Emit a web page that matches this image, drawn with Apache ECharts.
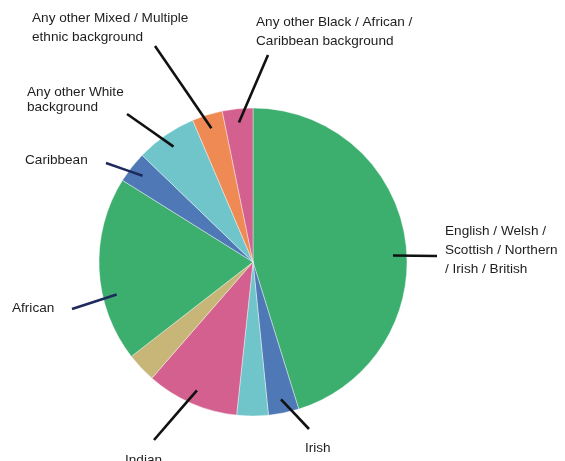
<!DOCTYPE html>
<html>
<head>
<meta charset="utf-8">
<script src="https://cdn.jsdelivr.net/npm/echarts@6/dist/echarts.min.js"></script>
<style>
  html, body { margin: 0; padding: 0; background: #fff; }
  #chart { width: 565px; height: 461px; }
</style>
</head>
<body>
<div id="chart"></div>
<script>
// Ethnic group shares (%), clockwise from 12 o'clock
const categories = [
  'English / Welsh / Scottish / Northern / Irish / British',
  'Irish',
  'Other (i)',
  'Indian',
  'Other (ii)',
  'African',
  'Caribbean',
  'Any other White background',
  'Any other Mixed / Multiple ethnic background',
  'Any other Black / African / Caribbean background'
];
const values = [45.2, 3.2, 3.3, 9.7, 3.1, 19.4, 3.3, 6.4, 3.2, 3.2];

// Text shown beside each slice ('' = no label)
const labelTexts = [
  'English / Welsh /\nScottish / Northern\n/ Irish / British',
  'Irish',
  '',
  'Indian',
  '',
  'African',
  'Caribbean',
  'Any other White\nbackground',
  'Any other Mixed / Multiple\nethnic background',
  'Any other Black / African /\nCaribbean background'
];

const sliceColors = ['#3cae6e', '#4f79b6', '#6fc5c9', '#d3608f', '#c7b678',
                     '#3cae6e', '#4f79b6', '#6fc5c9', '#ef8a55', '#d3608f'];

// Pie geometry
const CENTER = [253, 262];
const RADIUS = 154;

// Annotation layout: label anchor, leader end point, leader angle tweak (deg),
// leader colour and label line height
const annotations = {
  0: { label: [445, 250], end: [437, 256], dAng: 6, color: '#111', lh: 19 },
  1: { label: [305, 448], end: [309, 429], dAng: 0, color: '#111', lh: 19 },
  3: { label: [125, 460], end: [154, 440], dAng: 0, color: '#111', lh: 19 },
  5: { label: [12, 308], end: [72, 309], dAng: -10.5, color: '#1f2a5c', lh: 19 },
  6: { label: [25, 160], end: [106, 163], dAng: 0, color: '#1f2a5c', lh: 19 },
  7: { label: [27, 100], end: [127, 114], dAng: 0, color: '#111', lh: 15 },
  8: { label: [32, 28], end: [155, 46], dAng: 0, color: '#111', lh: 19 },
  9: { label: [256, 32], end: [268, 55], dAng: 0, color: '#111', lh: 19 }
};

// Mid-angle of each slice, degrees clockwise from 12 o'clock
const total = values.reduce((s, v) => s + v, 0);
const midAngles = [];
let acc = 0;
values.forEach(v => {
  midAngles.push((acc + v / 2) / total * 360);
  acc += v;
});

function leaderStart(i) {
  const a = (midAngles[i] + annotations[i].dAng) * Math.PI / 180;
  const r = RADIUS * 0.91;
  return [CENTER[0] + r * Math.sin(a), CENTER[1] - r * Math.cos(a)];
}

// Coloured slices
const sliceData = categories.map((name, i) => ({
  name: name,
  value: values[i],
  itemStyle: { color: sliceColors[i] }
}));

// Same slices, invisible, carrying labels and leaders drawn above the pie
const labelData = categories.map((name, i) => {
  const ann = annotations[i];
  const item = { name: name, value: values[i] };
  if (ann) {
    item.label = { show: true, lineHeight: ann.lh };
    item.labelLine = { show: true, lineStyle: { color: ann.color } };
  } else {
    item.label = { show: false };
    item.labelLine = { show: false };
  }
  return item;
});

const chart = echarts.init(document.getElementById('chart'), null, { renderer: 'canvas' });
chart.setOption({
  animation: false,
  backgroundColor: '#ffffff',
  series: [{
    type: 'pie',
    z: 2,
    center: CENTER,
    radius: RADIUS,
    startAngle: 90,
    clockwise: true,
    silent: true,
    itemStyle: { borderColor: '#ffffff', borderWidth: 0.4 },
    label: { show: false },
    labelLine: { show: false },
    data: sliceData
  }, {
    type: 'pie',
    z: 5,
    center: CENTER,
    radius: RADIUS,
    startAngle: 90,
    clockwise: true,
    silent: true,
    avoidLabelOverlap: false,
    itemStyle: { color: 'rgba(0,0,0,0)', borderWidth: 0 },
    label: {
      show: true,
      position: 'outside',
      formatter: p => labelTexts[p.dataIndex],
      color: '#1e1e1e',
      fontFamily: 'Liberation Sans, Arial, sans-serif',
      fontSize: 13.6,
      align: 'left'
    },
    labelLine: {
      show: true,
      smooth: false,
      lineStyle: { width: 2.6 }
    },
    labelLayout: function (params) {
      const i = params.dataIndex;
      const ann = annotations[i];
      if (!ann) return {};
      const s = leaderStart(i);
      const e = ann.end;
      return {
        x: ann.label[0],
        y: ann.label[1],
        align: 'left',
        verticalAlign: 'middle',
        labelLinePoints: [s, [(s[0] + e[0]) / 2, (s[1] + e[1]) / 2], e]
      };
    },
    data: labelData
  }]
});
</script>
</body>
</html>
